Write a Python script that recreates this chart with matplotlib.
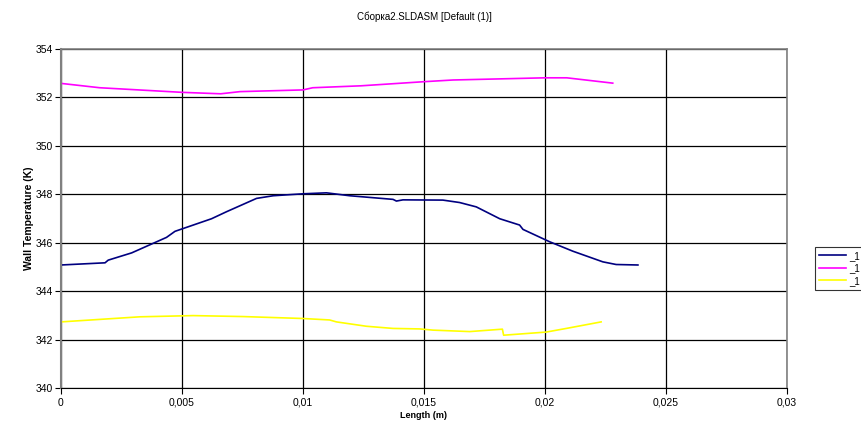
import matplotlib
matplotlib.use("Agg")
import matplotlib.pyplot as plt

plt.rcParams['font.family'] = ['Liberation Sans', 'DejaVu Sans']

title = "Сборка2.SLDASM [Default (1)]"
x_label = "Length (m)"
y_label = "Wall Temperature (K)"
legend_labels = ["_1", "_1", "_1"]

navy_x = [0, 0.00182, 0.00195, 0.00292, 0.00436, 0.00471, 0.00622, 0.00684, 0.00808,
          0.00877, 0.0100, 0.01097, 0.01193, 0.01372, 0.01386, 0.01413, 0.01578, 0.01647,
          0.01716, 0.01813, 0.01895, 0.01909, 0.02019, 0.02115, 0.02239, 0.02294, 0.02384]
navy_y = [345.08, 345.17, 345.28, 345.58, 346.22, 346.47, 346.99, 347.28, 347.83,
          347.94, 348.02, 348.06, 347.94, 347.79, 347.72, 347.77, 347.76, 347.66,
          347.48, 346.99, 346.73, 346.55, 346.04, 345.65, 345.21, 345.10, 345.08]

magenta_x = [0, 0.0016, 0.0050, 0.0066, 0.0074, 0.0100, 0.0104, 0.0124, 0.0150,
             0.0162, 0.0200, 0.0209, 0.0228]
magenta_y = [352.58, 352.40, 352.21, 352.15, 352.24, 352.31, 352.40, 352.48, 352.65,
             352.72, 352.81, 352.81, 352.59]

yellow_x = [0, 0.00326, 0.00546, 0.00753, 0.0100, 0.0111, 0.01138, 0.01262, 0.01372,
            0.01482, 0.01537, 0.01689, 0.01824, 0.01829, 0.02005, 0.02088, 0.02232]
yellow_y = [342.73, 342.94, 342.99, 342.95, 342.87, 342.81, 342.73, 342.55, 342.46,
            342.44, 342.39, 342.33, 342.43, 342.18, 342.31, 342.46, 342.73]

x_ticks = [0, 0.005, 0.01, 0.015, 0.02, 0.025, 0.03]
x_tick_labels = ["0", "0,005", "0,01", "0,015", "0,02", "0,025", "0,03"]
y_ticks = [340, 342, 344, 346, 348, 350, 352, 354]

fig = plt.figure(figsize=(8.61, 4.24), dpi=100)
ax = fig.add_axes([61/861, 1 - 388/424, (787 - 61)/861, (388 - 49)/424])

l1, = ax.plot(navy_x, navy_y, color='#000080', lw=1.2)
l2, = ax.plot(magenta_x, magenta_y, color='#ff00ff', lw=1.2)
l3, = ax.plot(yellow_x, yellow_y, color='#ffff00', lw=1.2)

ax.set_xlim(0, 0.03)
ax.set_ylim(340, 354)
ax.set_xticks(x_ticks)
ax.set_xticklabels(x_tick_labels)
ax.set_yticks(y_ticks)
ax.grid(True, color='black', lw=0.9)
ax.set_axisbelow(True)
for s in ['top', 'right']:
    ax.spines[s].set_color('#808080')
    ax.spines[s].set_linewidth(1.2)
ax.spines['left'].set_color('#808080')
ax.spines['left'].set_linewidth(1.5)
ax.spines['bottom'].set_color('black')
ax.tick_params(labelsize=7.5, length=4, direction='out', width=0.8, pad=2)
ax.tick_params(axis='x', pad=3)

ax.set_xlabel(x_label, fontsize=6.5, fontweight='bold', labelpad=2)
ax.set_ylabel(y_label, fontsize=7.5, fontweight='bold', labelpad=1)
fig.text((61 + 787) / 2 / 861, 1 - 17/424, title, ha='center', va='center', fontsize=7)

leg = fig.legend([l1, l2, l3], legend_labels, loc='upper left',
                 bbox_to_anchor=(815/861, 1 - 247/424), fontsize=7, frameon=True,
                 fancybox=False, edgecolor='black', handlelength=2.8, handletextpad=0.3,
                 labelspacing=0.25, borderpad=0.4, borderaxespad=0)
leg.get_frame().set_linewidth(0.8)

fig.savefig("out.png", dpi=100)
